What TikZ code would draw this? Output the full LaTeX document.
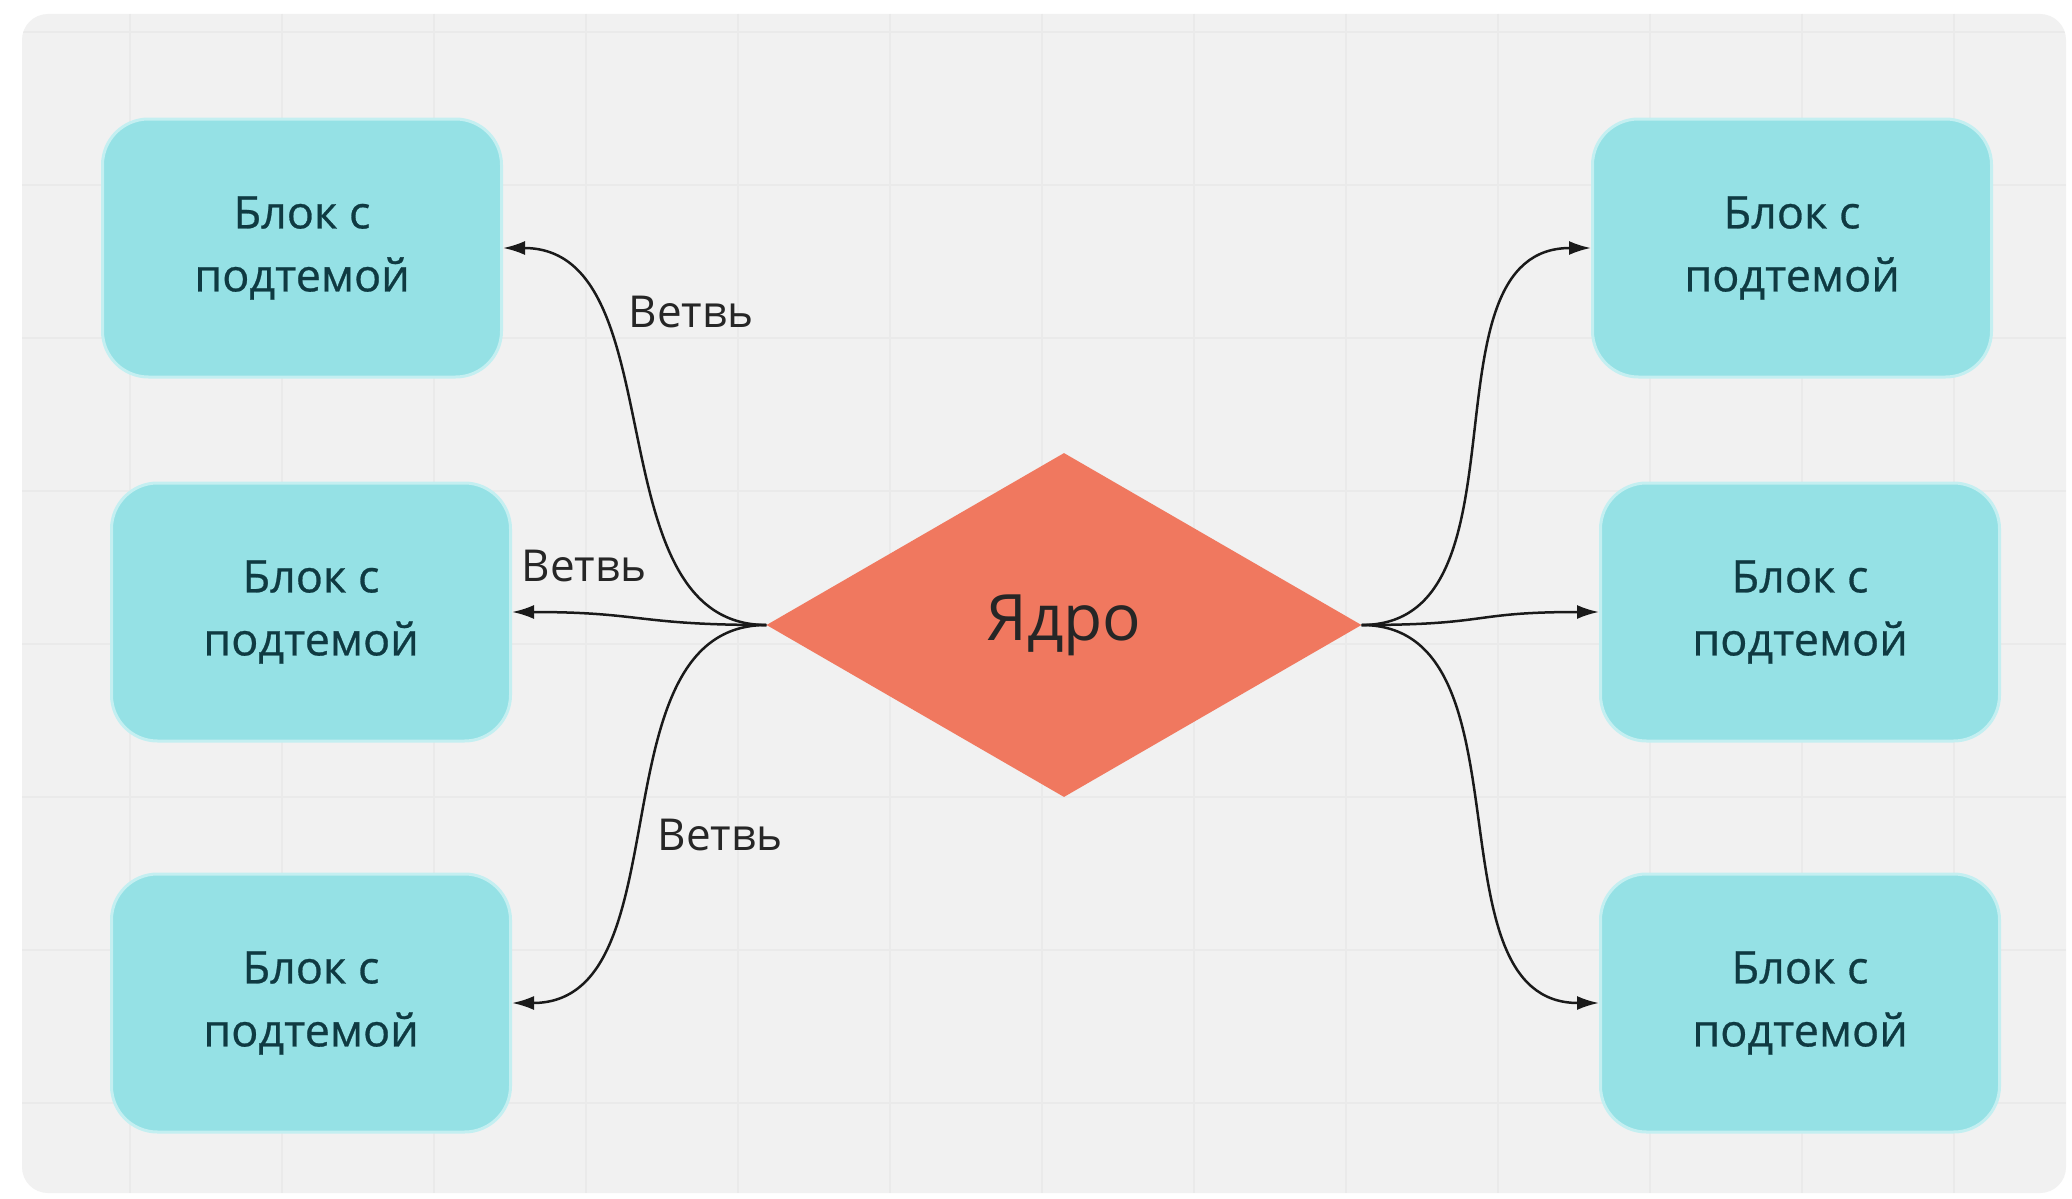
\documentclass[tikz,border=0pt]{standalone}
\usepackage{fontspec}
\setmainfont{Open Sans}
\newfontfamily\boxfont{Open Sans}[FakeBold=0.6]
\usetikzlibrary{shapes.geometric,arrows.meta}
\definecolor{panel}{HTML}{F1F1F1}
\definecolor{gridc}{HTML}{EAEAEA}
\definecolor{boxfill}{HTML}{95E1E5}
\definecolor{boxedge}{HTML}{C4EFF1}
\definecolor{boxtext}{HTML}{0F3A42}
\definecolor{corefill}{HTML}{F0785F}
\definecolor{linec}{HTML}{1A1A1A}
\tikzset{
  topicbox/.style={rectangle, rounded corners=46pt, minimum width=399pt, minimum height=258pt, fill=boxfill, draw=boxedge, line width=3pt, align=center, text=boxtext, font=\boxfont\fontsize{45}{63}\selectfont, inner sep=0pt},
  corenode/.style={diamond, minimum width=595pt, minimum height=344pt, fill=corefill, inner sep=0pt, text=black!85, font=\fontsize{64}{70}\selectfont},
  branch/.style={draw=linec, line width=2.5pt, -{Latex[length=22pt,width=14pt]}},
  branchlabel/.style={text=black!85, font=\fontsize{44}{50}\selectfont, inner sep=0pt},
}
\begin{document}
\begin{tikzpicture}[x=1pt,y=-1pt]
\useasboundingbox (0,0) rectangle (2072,1199);
\fill[white] (0,0) rectangle (2072,1199);
\fill[panel, rounded corners=26pt] (22,14) rectangle (2066,1193);
\begin{scope}
\clip[rounded corners=26pt] (22,14) rectangle (2066,1193);
\foreach \x in {130,282,...,2060} \draw[gridc, line width=1.2pt] (\x,14) -- (\x,1193);
\foreach \y in {32,185,...,1190} \draw[gridc, line width=1.2pt] (22,\y) -- (2066,\y);
\end{scope}

\node[topicbox] (tl) at (302,248) {Блок с\\подтемой};
\node[topicbox] (ml) at (311,612) {Блок с\\подтемой};
\node[topicbox] (bl) at (311,1003) {Блок с\\подтемой};
\node[topicbox] (tr) at (1792,248) {Блок с\\подтемой};
\node[topicbox] (mr) at (1800,612) {Блок с\\подтемой};
\node[topicbox] (br) at (1800,1003) {Блок с\\подтемой};
\node[corenode] (core) at (1064,625) {Ядро};

\draw[branch] (core.west) .. controls +(-175,0) and +(175,0) .. (tl.east);
\draw[branch] (core.west) .. controls +(-130,0) and +(130,0) .. (ml.east);
\draw[branch] (core.west) .. controls +(-175,0) and +(175,0) .. (bl.east);
\draw[branch] (core.east) .. controls +(175,0) and +(-175,0) .. (tr.west);
\draw[branch] (core.east) .. controls +(130,0) and +(-130,0) .. (mr.west);
\draw[branch] (core.east) .. controls +(175,0) and +(-175,0) .. (br.west);

\node[branchlabel] (l1) at (691,312) {Ветвь};
\node[branchlabel] (l2) at (584,566) {Ветвь};
\node[branchlabel] (l3) at (720,835) {Ветвь};
\end{tikzpicture}
\end{document}
